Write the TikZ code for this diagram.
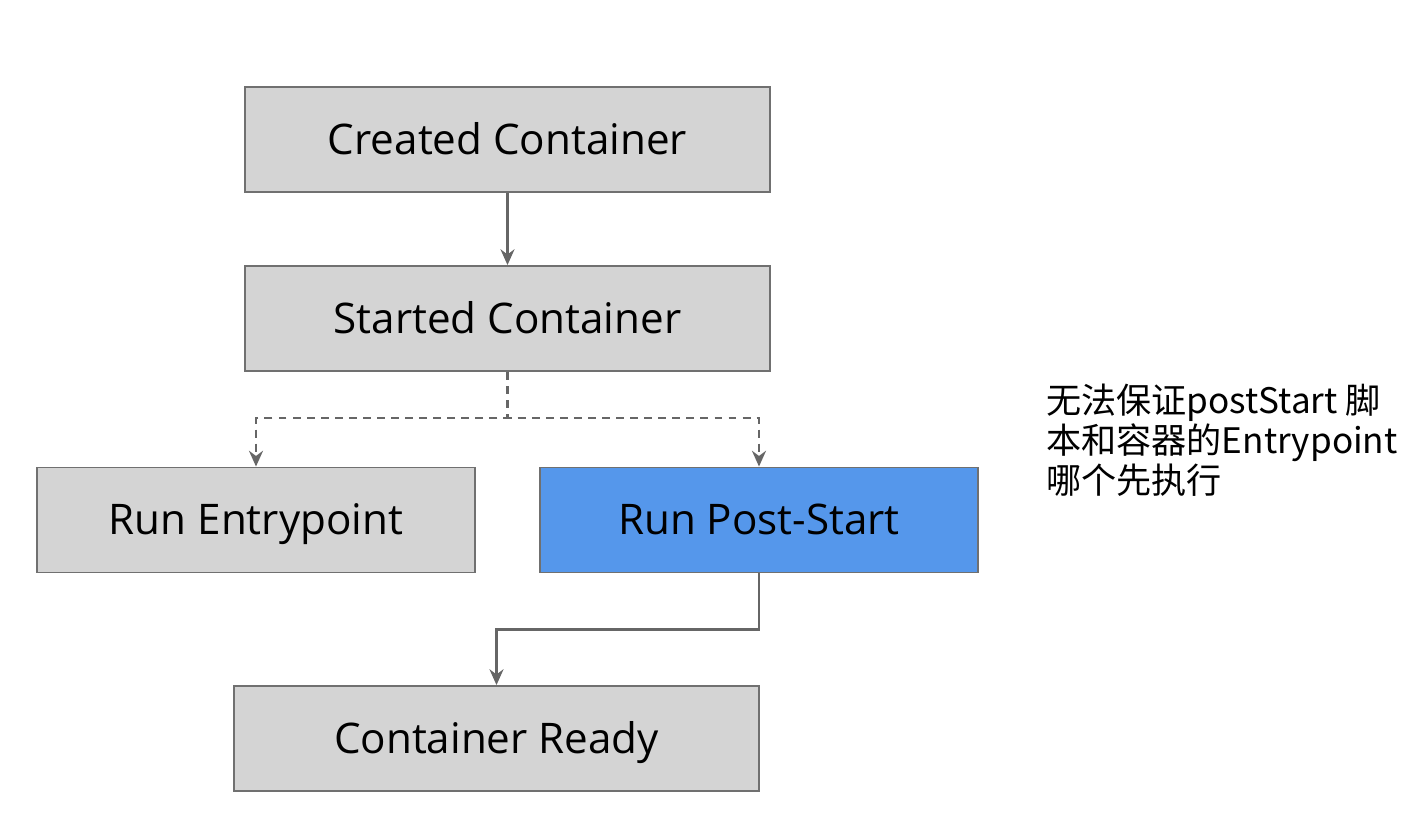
\documentclass[tikz,border=0pt]{standalone}
\usepackage{fontspec}
\setmainfont{Open Sans}
\newfontfamily\cjk{Noto Sans CJK SC}
\usetikzlibrary{calc, arrows.meta}
\definecolor{boxgray}{HTML}{D4D4D4}
\definecolor{boxline}{HTML}{707070}
\definecolor{boxblue}{HTML}{5597EB}
\definecolor{flowline}{HTML}{666666}
\tikzset{
  state/.style={draw=boxline, fill=boxgray, line width=1.1pt,
    minimum width=10.5cm, minimum height=2.1cm, inner sep=0pt,
    text height=17pt, text depth=0pt,
    font=\fontsize{24}{28}\selectfont},
  small/.style={state, minimum width=8.76cm},
  flow/.style={draw=flowline, line width=1.3pt, -{Stealth[length=9pt,width=8pt,inset=3pt]}},
  flowdash/.style={flow, dash pattern=on 4.5pt off 3.5pt}
}

\begin{document}
\begin{tikzpicture}[x=0.02cm, y=-0.02cm]
        \useasboundingbox (0,0) rectangle (1418,832);

        \node[state] (created) at (507.5,139.5) {Created Container};
        \node[state] (started) at (507.5,318.5) {Started Container};
        \node[small] (entry) at (256,520) {Run Entrypoint};
        \node[small, fill=boxblue] (poststart) at (759,520) {Run Post-Start};
        \node[state] (ready) at (496.5,738.5) {Container Ready};

        \coordinate (split) at ($(started.south)+(0,46)$);
        \coordinate (join) at ($(poststart.south)+(0,56)$);

        \draw[flow] (created) -- (started);
        \draw[flowdash] (started.south) -- (split) -| (entry.north);
        \draw[flowdash] (started.south) -- (split) -| (poststart.north);
        \draw[flow] (poststart.south) -- (join) -| (ready.north);

        \node[anchor=west, align=left, font=\cjk\fontsize{20}{22.8}\selectfont] (note) at (1040,440)
            {无法保证postStart 脚\\本和容器的Entrypoint\\哪个先执行};
    \end{tikzpicture}
\end{document}
